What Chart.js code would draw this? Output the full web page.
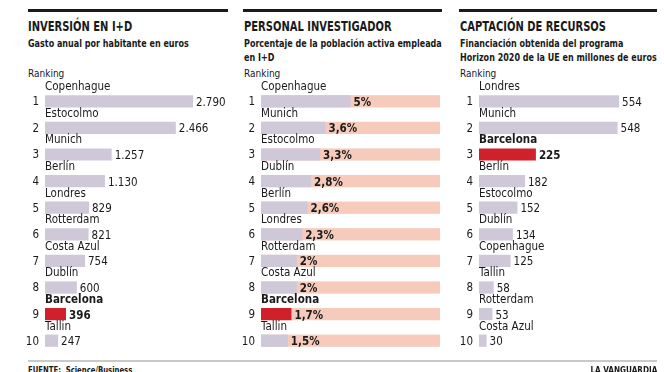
<!DOCTYPE html>
<html lang="es">
<head>
<meta charset="UTF-8">
<title>Ranking I+D</title>
<script src="https://cdn.jsdelivr.net/npm/chart.js"></script>
<style>
    body, html {
        margin: 0;
        padding: 0;
        width: 664px;
        height: 372px;
        overflow: hidden;
        background: #fff;
        font-family: "DejaVu Sans Condensed", "Open Sans", sans-serif;
        color: #1a1a1a;
    }
    .regla {
        position: absolute;
        top: 9px;
        height: 3px;
        background: #1a1a1a;
    }
    .titulo {
        position: absolute;
        top: 18px;
        font-weight: bold;
        font-size: 14px;
        line-height: 16px;
        white-space: nowrap;
        transform: scaleX(0.79);
        transform-origin: left center;
    }
    .sub {
        position: absolute;
        top: 36px;
        font-weight: bold;
        font-size: 10.5px;
        line-height: 14px;
        white-space: nowrap;
        transform: scaleX(0.85);
        transform-origin: left top;
    }
    .ranking {
        position: absolute;
        top: 67px;
        font-size: 10.5px;
        line-height: 12px;
        transform: scaleX(0.95);
        transform-origin: left center;
    }
    canvas { position: absolute; top: 60px; }
    #pie {
        position: absolute;
        left: 28px;
        top: 360px;
        width: 629px;
        height: 2px;
        background: #c9c9c9;
    }
    .fuente {
        position: absolute;
        top: 365px;
        font-size: 9px;
        font-weight: bold;
        line-height: 10px;
        white-space: nowrap;
    }
</style>
</head>
<body>
<div class="regla" style="left:28px;width:200px"></div>
<div class="regla" style="left:243px;width:199px"></div>
<div class="regla" style="left:459px;width:198px"></div>

<div class="titulo" style="left:28px">INVERSIÓN EN I+D</div>
<div class="sub" style="left:28px">Gasto anual por habitante en euros</div>
<div class="ranking" style="left:28px">Ranking</div>

<div class="titulo" style="left:244px">PERSONAL INVESTIGADOR</div>
<div class="sub" style="left:244px">Porcentaje de la población activa empleada<br>en I+D</div>
<div class="ranking" style="left:244px">Ranking</div>

<div class="titulo" style="left:460px">CAPTACIÓN DE RECURSOS</div>
<div class="sub" style="left:460px">Financiación obtenida del programa<br>Horizon 2020 de la UE en millones de euros</div>
<div class="ranking" style="left:460px">Ranking</div>

<canvas id="inversion" width="232" height="300" style="left:0px"></canvas>
<canvas id="personal" width="225" height="300" style="left:225px"></canvas>
<canvas id="recursos" width="224" height="300" style="left:440px"></canvas>

<div id="pie"></div>
<div class="fuente" style="left:28px;transform:scaleX(0.85);transform-origin:left center">FUENTE:&nbsp; Science/Business</div>
<div class="fuente" style="right:7px;transform:scaleX(0.9);transform-origin:right center">LA VANGUARDIA</div>

<script>
    const ciudadesInversion = ['Copenhague', 'Estocolmo', 'Munich', 'Berlín', 'Londres', 'Rotterdam', 'Costa Azul', 'Dublín', 'Barcelona', 'Tallin'];
    const gastoHabitante = [2790, 2466, 1257, 1130, 829, 821, 754, 600, 396, 247];

    const ciudadesPersonal = ['Copenhague', 'Munich', 'Estocolmo', 'Dublín', 'Berlín', 'Londres', 'Rotterdam', 'Costa Azul', 'Barcelona', 'Tallin'];
    const porcentajePersonal = [5, 3.6, 3.3, 2.8, 2.6, 2.3, 2, 2, 1.7, 1.5];

    const ciudadesRecursos = ['Londres', 'Munich', 'Barcelona', 'Berlín', 'Estocolmo', 'Dublín', 'Copenhague', 'Tallin', 'Rotterdam', 'Costa Azul'];
    const fondosHorizon = [554, 548, 225, 182, 152, 134, 125, 58, 53, 30];

    const FUENTE = '"DejaVu Sans Condensed", "Open Sans", sans-serif';
    const LILA = '#cfc8d9';
    const ROJO = '#d0202b';
    const SALMON = '#f6cbbb';

    // 2790 -> "2.790", 3.6 -> "3,6%"
    function miles(v) {
        return String(v).replace(/\B(?=(\d{3})+(?!\d))/g, '.');
    }
    function porcentaje(v) {
        return String(v).replace('.', ',') + '%';
    }

    const etiquetasPlugin = {
        id: 'etiquetas',
        beforeDatasetsDraw(chart, args, opts) {
            if (!opts.pista) return;
            const ctx = chart.ctx;
            const x0 = chart.scales.x.getPixelForValue(0);
            ctx.save();
            ctx.fillStyle = SALMON;
            chart.getDatasetMeta(0).data.forEach(bar => {
                ctx.fillRect(x0, bar.y - bar.height / 2, chart.chartArea.right - x0, bar.height);
            });
            ctx.restore();
        },
        afterDatasetsDraw(chart, args, opts) {
            const ctx = chart.ctx;
            const x0 = chart.scales.x.getPixelForValue(0);
            const labels = chart.data.labels;
            const values = chart.data.datasets[0].data;
            ctx.save();
            ctx.fillStyle = '#1a1a1a';
            ctx.textBaseline = 'middle';
            chart.getDatasetMeta(0).data.forEach((bar, i) => {
                const bcn = labels[i] === 'Barcelona';
                ctx.font = '11.5px ' + FUENTE;
                ctx.textAlign = 'right';
                ctx.fillText(String(i + 1), x0 - 6, bar.y + 1);

                ctx.textAlign = 'left';
                ctx.font = (bcn ? 'bold ' : '') + '11.5px ' + FUENTE;
                ctx.fillText(labels[i], x0, bar.y - 14);

                ctx.font = (bcn || opts.negrita ? 'bold ' : '') + '11.5px ' + FUENTE;
                ctx.fillText(opts.formato(values[i]), bar.x + 3, bar.y + 1.5);
            });
            ctx.restore();
        }
    };

    function crearPanel(id, labels, values, max, padLeft, padRight, extra) {
        new Chart(document.getElementById(id), {
            type: 'bar',
            data: {
                labels: labels,
                datasets: [{
                    data: values,
                    backgroundColor: labels.map(c => c === 'Barcelona' ? ROJO : LILA),
                    borderWidth: 0,
                    barPercentage: 0.46,
                    categoryPercentage: 1
                }]
            },
            options: {
                indexAxis: 'y',
                responsive: false,
                animation: false,
                devicePixelRatio: 1,
                layout: { padding: { left: padLeft, right: padRight, top: 28, bottom: 6 } },
                scales: {
                    x: { display: false, min: 0, max: max },
                    y: { display: false }
                },
                plugins: {
                    legend: { display: false },
                    tooltip: { enabled: false },
                    etiquetas: extra
                }
            },
            plugins: [etiquetasPlugin]
        });
    }

    crearPanel('inversion', ciudadesInversion, gastoHabitante, 3450, 45, 4, { formato: miles });
    crearPanel('personal', ciudadesPersonal, porcentajePersonal, 10, 36, 10, { formato: porcentaje, pista: true, negrita: true });
    crearPanel('recursos', ciudadesRecursos, fondosHorizon, 704, 39, 7, { formato: miles });
</script>
</body>
</html>
